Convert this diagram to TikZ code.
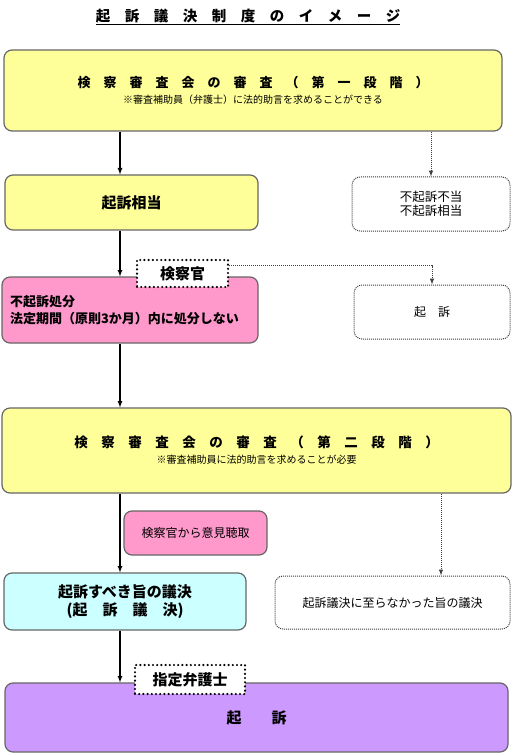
\documentclass[tikz,border=0pt]{standalone}
\usepackage{fontspec}
\setmainfont{Noto Sans CJK JP}
\definecolor{kyellow}{HTML}{FFFF99}
\definecolor{kpink}{HTML}{FF99CC}
\definecolor{kcyan}{HTML}{CCFFFF}
\definecolor{kpurple}{HTML}{CC99FF}
\begin{document}
\begin{tikzpicture}[x=1pt,y=-1pt,>=latex,
    box/.style={draw=black!60, line width=1.2pt, rounded corners=8pt, inner sep=0pt, align=center},
    dotbox/.style={draw=black!75, line width=1pt, densely dotted, rounded corners=8pt, fill=white, inner sep=0pt, align=center},
    tag/.style={draw=black, line width=2.4pt, line cap=round, dash pattern=on 0pt off 4.2pt, fill=white, inner sep=0pt, font=\fontsize{15}{18}\selectfont\bfseries},
    arr/.style={->, line width=1.2pt},
    dotarr/.style={->, draw=black!75, line width=1pt, densely dotted}]
    \useasboundingbox (0,0) rectangle (517,754);
    \coordinate (trunk) at (120,0);
    \coordinate (rtrunk) at (441,0);
    \node[font=\fontsize{14.5}{17}\selectfont\bfseries] (title) at (248,17) {\underline{起　訴　議　決　制　度　の　イ　メ　ー　ジ}};
    \node[box, fill=kyellow, minimum width=498, minimum height=81, font=\fontsize{10}{16}\selectfont] (stageA) at (253,90.5)
        {{\fontsize{13}{16}\selectfont\bfseries 検　察　審　査　会　の　審　査　（　第　一　段　階　）}\\ ※審査補助員（弁護士）に法的助言を求めることができる};
    \node[box, fill=kyellow, minimum width=253, minimum height=55, font=\fontsize{15}{18}\selectfont\bfseries] (soutou) at (131.5,202.5) {起訴相当};
    \node[dotbox, minimum width=158, minimum height=54, font=\fontsize{12.5}{14}\selectfont] (fuki) at (431,204) {不起訴不当\\不起訴相当};
    \node[dotbox, minimum width=156, minimum height=54, font=\fontsize{12}{14}\selectfont] (kisoR) at (432,312) {起　訴};
    \node[box, fill=kpink, minimum width=256, minimum height=66, text width=240, inner xsep=8pt, align=left, font=\fontsize{13}{17}\selectfont\bfseries] (shobun) at (130,310)
        {不起訴処分\\法定期間（原則3か月）内に処分しない};
    \node[tag, minimum width=91, minimum height=27] (kenA) at (182.5,273.5) {検察官};
    \node[box, fill=kyellow, minimum width=509, minimum height=85, font=\fontsize{10}{16}\selectfont] (stageB) at (256.5,450.5)
        {{\fontsize{13.5}{16}\selectfont\bfseries 検　察　審　査　会　の　審　査　（　第　二　段　階　）}\\ ※審査補助員に法的助言を求めることが必要};
    \node[box, fill=kpink, minimum width=143, minimum height=44, font=\fontsize{12}{14}\selectfont] (iken) at (195.5,533) {検察官から意見聴取};
    \node[box, fill=kcyan, minimum width=242, minimum height=57, font=\fontsize{15}{18}\selectfont\bfseries] (giketsu) at (125,601.5)
        {起訴すべき旨の議決\\(起　訴　議　決)};
    \node[dotbox, minimum width=235, minimum height=53, font=\fontsize{12}{14}\selectfont] (itarazu) at (392.5,602.5) {起訴議決に至らなかった旨の議決};
    \node[box, fill=kpurple, minimum width=503, minimum height=69, font=\fontsize{15}{18}\selectfont\bfseries] (kiso) at (256.5,717.5) {起　　訴};
    \node[tag, minimum width=110, minimum height=29] (bengo) at (190,679.5) {指定弁護士};
    \foreach \a/\b in {stageA/soutou, soutou/shobun, shobun/stageB, stageB/giketsu, giketsu/kiso}{
        \draw[arr] (\a.south -| trunk) -- (\b.north -| trunk);
    }
    \draw[dotarr] (stageA.south -| fuki.north) -- (fuki.north);
    \draw[dotarr] ([yshift=8pt]kenA.east) -| (kisoR.north);
    \draw[dotarr] (stageB.south -| rtrunk) -- (itarazu.north -| rtrunk);
\end{tikzpicture}
\end{document}
